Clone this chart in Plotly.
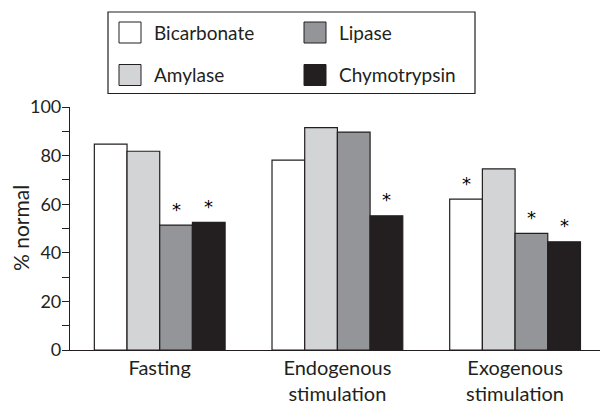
import plotly.graph_objects as go

categories = ["Fasting", "Endogenous<br>stimulation", "Exogenous<br>stimulation"]
series_names = ["Bicarbonate", "Amylase", "Lipase", "Chymotrypsin"]
bicarbonate = [84.7, 78.1, 62.1]
amylase = [81.8, 91.5, 74.5]
lipase = [51.4, 89.7, 48.0]
chymotrypsin = [52.5, 55.2, 44.5]
# significance flags (asterisks)
bicarbonate_sig = [False, False, True]
amylase_sig = [False, False, False]
lipase_sig = [True, False, True]
chymotrypsin_sig = [True, True, True]
y_ticks = [0, 20, 40, 60, 80, 100]
y_title = "% normal"

colors = ["#ffffff", "#d3d4d6", "#939598", "#231f20"]
values = [bicarbonate, amylase, lipase, chymotrypsin]
sigs = [bicarbonate_sig, amylase_sig, lipase_sig, chymotrypsin_sig]

FONT = "Lato"
TXT = "#231f20"
W, H = 600, 404
L, R, T, B = 70, 0, 107, 54
BARGAP = 0.264

fig = go.Figure()
for name, vals, col in zip(series_names, values, colors):
    fig.add_trace(go.Bar(
        name=name, x=list(range(len(categories))), y=vals,
        marker=dict(color=col, line=dict(color="#231f20", width=1.2)),
        showlegend=False,
    ))

# asterisks
nser = len(series_names)
bw = (1 - BARGAP) / nser
annotations = []
for j, (vals, sg) in enumerate(zip(values, sigs)):
    for i, (v, s) in enumerate(zip(vals, sg)):
        if s:
            annotations.append(dict(
                x=i + (j - (nser - 1) / 2) * bw, y=v, xref="x", yref="y",
                text="*", showarrow=False, yshift=16,
                font=dict(family="DejaVu Sans", size=18, color="#000000"),
            ))

# custom legend (pixel -> paper helpers)
pw = W - L - R
ph = H - T - B
def px(xp):
    return (xp - L) / pw
def py(yp):
    return (H - B - yp) / ph

shapes = [dict(type="rect", xref="paper", yref="paper",
               x0=px(108), x1=px(475), y0=py(12), y1=py(93.5),
               line=dict(color="#231f20", width=1.2), fillcolor="rgba(0,0,0,0)")]
legend_pos = [(119, 22), (119, 64.5), (304, 22), (304, 64.5)]
for name, col, (lx, ly) in zip(series_names, colors, legend_pos):
    shapes.append(dict(type="rect", xref="paper", yref="paper",
                       x0=px(lx), x1=px(lx + 22), y0=py(ly), y1=py(ly + 21),
                       line=dict(color="#231f20", width=1), fillcolor=col))
    annotations.append(dict(x=px(lx + 33), y=py(ly + 10.5), xref="paper", yref="paper",
                            text=name, showarrow=False, xanchor="left", yanchor="middle",
                            font=dict(family=FONT, size=19, color=TXT)))

# y-axis title
annotations.append(dict(x=px(20), y=py(228), xref="paper", yref="paper",
                        text=y_title, textangle=-90, showarrow=False,
                        xanchor="center", yanchor="middle",
                        font=dict(family=FONT, size=21, color=TXT)))

fig.update_layout(
    width=W, height=H,
    margin=dict(l=L, r=R, t=T, b=B, autoexpand=False),
    paper_bgcolor="white", plot_bgcolor="white",
    barmode="group", bargap=BARGAP, bargroupgap=0,
    font=dict(family=FONT, color=TXT),
    shapes=shapes, annotations=annotations,
    showlegend=False,
)
fig.update_xaxes(
    tickmode="array", tickvals=list(range(len(categories))), ticktext=categories,
    range=[-0.505, 2.478], showline=True, linecolor="#231f20", linewidth=1.2,
    ticks="", showgrid=False, zeroline=False,
    tickfont=dict(family=FONT, size=20, color=TXT),
)
fig.update_yaxes(
    range=[0, 100], tickvals=y_ticks, showline=True, linecolor="#231f20", linewidth=1.2,
    ticks="outside", ticklen=7, tickcolor="#231f20", tickwidth=1.2,
    minor=dict(dtick=10, ticks="outside", ticklen=7, tickcolor="#231f20", tickwidth=1.2),
    showgrid=False, zeroline=False, ticklabelstandoff=-3,
    tickfont=dict(family=FONT, size=18, color=TXT),
    automargin=False,
)

fig.write_html("out.html", config={"displayModeBar": False},
               post_script="document.body.style.margin='0';document.body.style.padding='0';")
